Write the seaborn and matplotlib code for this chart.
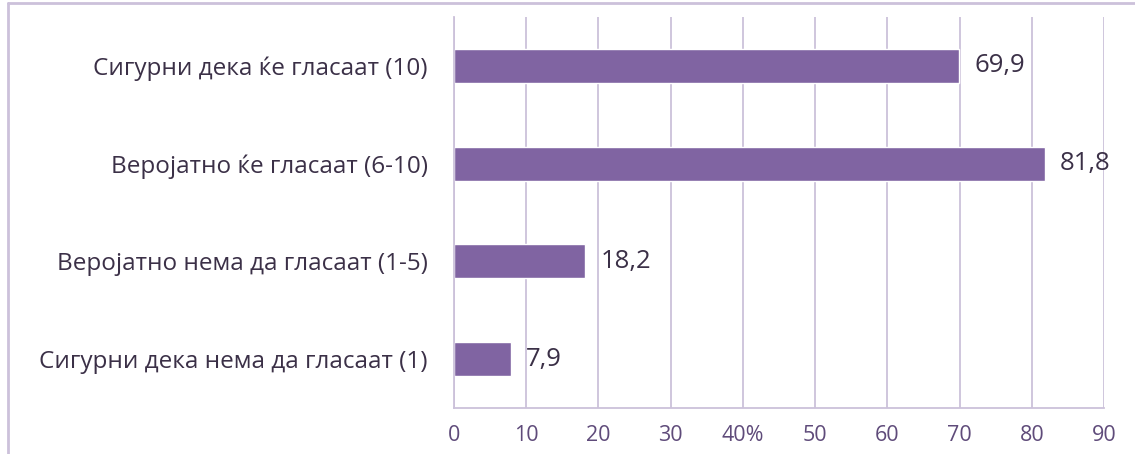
import seaborn as sns
import matplotlib.pyplot as plt
from matplotlib.lines import Line2D

categories = ['Сигурни дека ќе гласаат (10)',
              'Веројатно ќе гласаат (6-10)',
              'Веројатно нема да гласаат (1-5)',
              'Сигурни дека нема да гласаат (1)']
values = [69.9, 81.8, 18.2, 7.9]
xticks = [0, 10, 20, 30, 40, 50, 60, 70, 80, 90]
xtick_labels = ['0', '10', '20', '30', '40%', '50', '60', '70', '80', '90']

bar_color = '#8064A2'
grid_color = '#CCC1DA'
text_color = '#3B3047'
tick_color = '#5F4B7A'

sns.set_style('white')
plt.rcParams['font.family'] = ['Open Sans', 'DejaVu Sans']

fig = plt.figure(figsize=(11.35, 4.54), dpi=100)
ax = fig.add_axes([0.4, 0.1013, 0.5727, 0.8613])

sns.barplot(x=values, y=categories, orient='h', color=bar_color,
            saturation=1, width=0.35, ax=ax)

ax.set_xlim(0, 90)
ax.set_ylim(3.5, -0.5)
ax.set_xticks(xticks)
ax.set_xticklabels(xtick_labels, color=tick_color, fontsize=15.5)
ax.tick_params(axis='x', length=0, pad=12)
ax.tick_params(axis='y', length=0, pad=19, labelsize=17.5, labelcolor=text_color)
ax.set_xlabel('')
ax.set_ylabel('')

ax.grid(axis='x', color=grid_color, linewidth=1.3)
ax.set_axisbelow(True)
for side in ['top', 'right']:
    ax.spines[side].set_visible(False)
for side in ['left', 'bottom']:
    ax.spines[side].set_color(grid_color)
    ax.spines[side].set_linewidth(1.3)

ax.bar_label(ax.containers[0], labels=[f'{v:.1f}'.replace('.', ',') for v in values],
             padding=11, fontsize=18.5, color=text_color)

# outer chart frame (top and left edges)
fig.add_artist(Line2D([0.007, 1.0], [0.993, 0.993], color=grid_color, linewidth=2,
                      transform=fig.transFigure))
fig.add_artist(Line2D([0.007, 0.007], [0.0, 0.993], color=grid_color, linewidth=2,
                      transform=fig.transFigure))

fig.savefig('out.png', dpi=100)
